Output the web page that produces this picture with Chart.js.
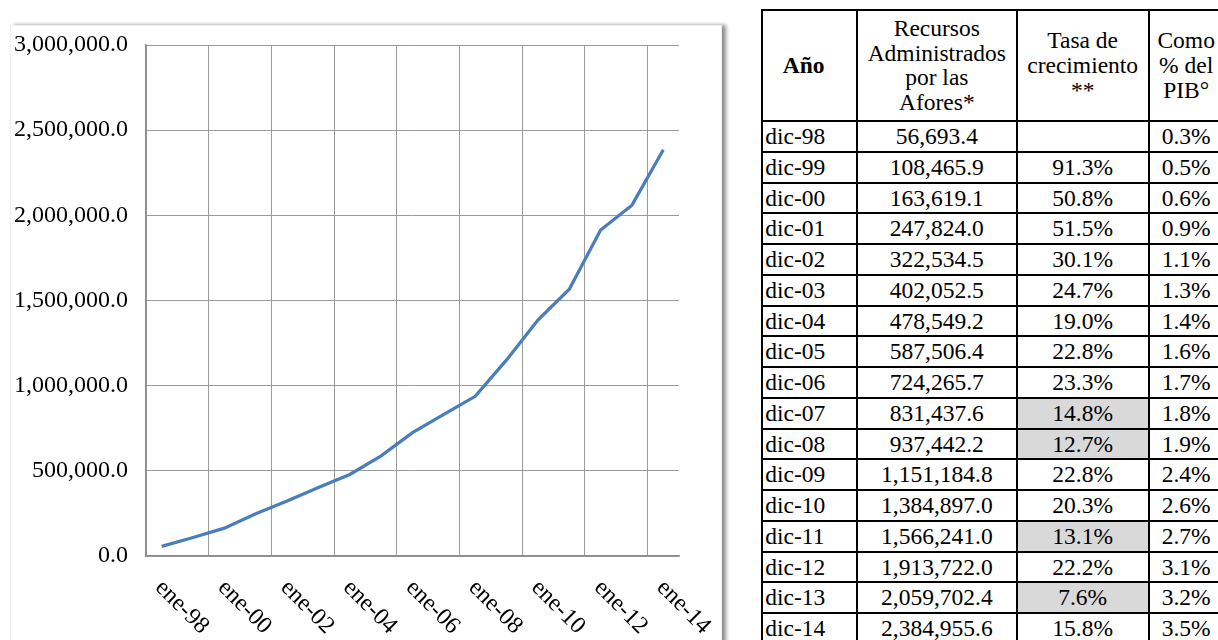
<!DOCTYPE html>
<html>
<head>
<meta charset="utf-8">
<title>Recursos administrados por las Afores</title>
<script src="https://cdn.jsdelivr.net/npm/chart.js@4.4.1/dist/chart.umd.min.js"></script>
<style>
  html, body { margin: 0; padding: 0; background: #fff; width: 1218px; height: 640px; overflow: hidden; position: relative;
    font-family: "Liberation Serif", "Times New Roman", serif; color: #000; }
  #frame { position: absolute; left: 10px; top: 25px; width: 710px; height: 700px; background: #fff;
    border: 1px solid #efefef; box-shadow: 4px 0 4px rgba(0,0,0,0.45); }
  #chartBox { position: absolute; left: 0; top: 0; width: 722px; height: 640px; }
  #tbl { position: absolute; left: 761.3px; top: 8.7px; display: grid;
    grid-template-columns: 94.7px 159.7px 132px 75px;
    grid-template-rows: 111.3px repeat(17, 30.77px);
    border-left: 2px solid #000; border-top: 2px solid #000; font-size: 23.5px; }
  .c { box-sizing: border-box; border-right: 2px solid #000; border-bottom: 2px solid #000;
    display: flex; align-items: center; justify-content: center; white-space: nowrap; line-height: 24.8px; text-align: center; }
  .c.first { justify-content: flex-start; padding-left: 2px; }
  .c.hyear { font-weight: bold; padding-right: 12px; }
  .c.shade { background: #d9d9d9; }
</style>
</head>
<body>
<div id="frame"></div>
<div id="chartBox"><canvas id="c" width="722" height="640"></canvas></div>
<div id="tbl"></div>
<script>
// Axis categories (one per year) and the year column of the table
const axisLabels = ['ene-98','ene-99','ene-00','ene-01','ene-02','ene-03','ene-04','ene-05','ene-06',
                    'ene-07','ene-08','ene-09','ene-10','ene-11','ene-12','ene-13','ene-14'];
const years = ['dic-98','dic-99','dic-00','dic-01','dic-02','dic-03','dic-04','dic-05','dic-06',
               'dic-07','dic-08','dic-09','dic-10','dic-11','dic-12','dic-13','dic-14'];
// Recursos administrados por las Afores (millones de pesos)
const resources = [56693.4, 108465.9, 163619.1, 247824.0, 322534.5, 402052.5, 478549.2, 587506.4, 724265.7,
                   831437.6, 937442.2, 1151184.8, 1384897.0, 1566241.0, 1913722.0, 2059702.4, 2384955.6];
// Tasa de crecimiento (%)
const growth = [null, 91.3, 50.8, 51.5, 30.1, 24.7, 19.0, 22.8, 23.3, 14.8, 12.7, 22.8, 20.3, 13.1, 22.2, 7.6, 15.8];
// Como % del PIB
const pctGdp = [0.3, 0.5, 0.6, 0.9, 1.1, 1.3, 1.4, 1.6, 1.7, 1.8, 1.9, 2.4, 2.6, 2.7, 3.1, 3.2, 3.5];
// Value axis ticks
const yTicks = [0, 500000, 1000000, 1500000, 2000000, 2500000, 3000000];
// Table headers
const headers = ['Año', 'Recursos<br>Administrados<br>por las<br>Afores*', 'Tasa de<br>crecimiento<br>**', 'Como<br>% del<br>PIB°'];

const FONT = '"Liberation Serif", "Times New Roman", serif';
const fmt1 = v => v.toLocaleString('en-US', { minimumFractionDigits: 1, maximumFractionDigits: 1 });

// Table
const tbl = document.getElementById('tbl');
function cell(html, cls) {
  const d = document.createElement('div');
  d.className = 'c' + (cls ? ' ' + cls : '');
  d.innerHTML = html;
  tbl.appendChild(d);
}
headers.forEach((h, i) => cell(h, i === 0 ? 'hyear' : ''));
years.forEach((y, i) => {
  cell(y, 'first');
  cell(fmt1(resources[i]));
  const g = growth[i];
  cell(g === null ? '' : g.toFixed(1) + '%', (g !== null && g < 15) ? 'shade' : '');
  cell(pctGdp[i].toFixed(1) + '%');
});

// Category labels drawn slanted downward, every second year
const slantedLabels = {
  id: 'slantedLabels',
  afterDraw(chart) {
    const xs = chart.scales.x, ctx = chart.ctx;
    ctx.save();
    ctx.font = '24px ' + FONT;
    ctx.fillStyle = '#000';
    ctx.textAlign = 'left';
    ctx.textBaseline = 'middle';
    axisLabels.forEach((lab, i) => {
      if (i % 2) return;
      const x = xs.getPixelForTick(i);
      ctx.save();
      ctx.translate(x - 3, xs.top + 28);
      ctx.rotate(Math.PI / 4);
      ctx.fillText(lab, 0, 0);
      ctx.restore();
    });
    ctx.restore();
  }
};

new Chart(document.getElementById('c'), {
  type: 'line',
  data: {
    labels: axisLabels,
    datasets: [{
      data: resources,
      borderColor: '#4a7ebb',
      borderWidth: 3.25,
      pointRadius: 0,
      tension: 0,
      fill: false
    }]
  },
  options: {
    responsive: false,
    animation: false,
    layout: { padding: { top: 45, right: 43, left: 0, bottom: 0 } },
    plugins: { legend: { display: false }, tooltip: { enabled: false } },
    scales: {
      x: {
        type: 'category',
        offset: true,
        grid: {
          offset: true,
          drawTicks: false,
          color: ctx => (ctx.index % 2 === 0 ? '#9a9a9a' : 'rgba(0,0,0,0)'),
          lineWidth: 1
        },
        border: { display: true, color: '#8c8c8c', width: 1.5 },
        ticks: { display: false },
        afterFit: s => { s.height = 84; }
      },
      y: {
        min: 0,
        max: 3000000,
        afterBuildTicks: s => { s.ticks = yTicks.map(v => ({ value: v })); },
        grid: { color: '#9a9a9a', lineWidth: 1, drawTicks: false },
        border: { display: true, color: '#8c8c8c', width: 1.5 },
        ticks: {
          padding: 18,
          color: '#000',
          font: { family: FONT, size: 24 },
          callback: v => fmt1(v)
        },
        afterFit: s => { s.width = 146; }
      }
    }
  },
  plugins: [slantedLabels]
});
</script>
</body>
</html>
